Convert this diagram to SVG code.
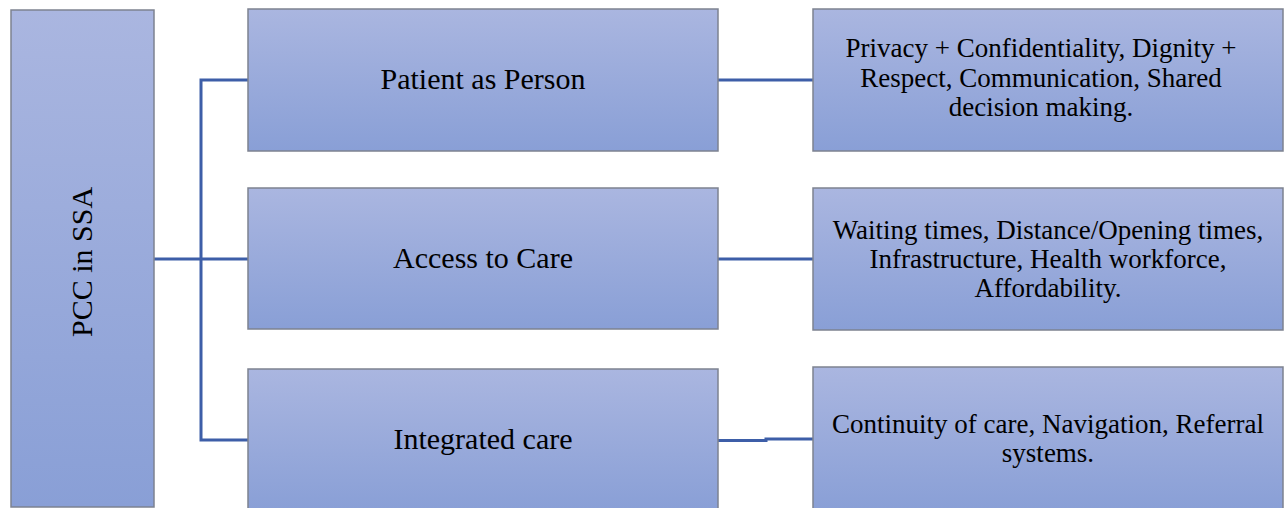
<svg xmlns="http://www.w3.org/2000/svg" width="1285" height="508" viewBox="0 0 1285 508">
  <style>
    .box { fill: url(#boxFill); stroke: #7d8290; stroke-width: 1.5; }
    .link { fill: none; stroke: #3d5ea8; stroke-width: 3; }
    .t1 { font-family: "Liberation Serif", "Times New Roman", serif; font-size: 30px; fill: #000; text-anchor: middle; }
    .t2 { font-family: "Liberation Serif", "Times New Roman", serif; font-size: 27px; fill: #000; text-anchor: middle; }
  </style>
  <defs>
    <linearGradient id="boxFill" x1="0" y1="0" x2="0" y2="1">
      <stop offset="0" stop-color="#aab6e0"/>
      <stop offset="1" stop-color="#899fd6"/>
    </linearGradient>
  </defs>
  <rect width="1285" height="508" fill="#ffffff"/>

  <!-- connectors -->
  <g id="connectors">
    <path class="link" d="M154,259 H248"/>
    <path class="link" d="M248,80 H201 V440 H248"/>
    <path class="link" d="M718,80 H813"/>
    <path class="link" d="M718,259 H813"/>
    <path class="link" d="M718,440.5 H766 V439 H813"/>
  </g>

  <!-- root -->
  <g id="root">
    <rect class="box" x="11" y="10" width="143" height="497"/>
    <text class="t1" transform="translate(92,262) rotate(-90)">PCC in SSA</text>
  </g>

  <!-- categories -->
  <g id="patient-as-person">
    <rect class="box" x="248" y="9" width="470" height="142"/>
    <text class="t1" x="483" y="89">Patient as Person</text>
  </g>
  <g id="access-to-care">
    <rect class="box" x="248" y="188" width="470" height="141"/>
    <text class="t1" x="483" y="268">Access to Care</text>
  </g>
  <g id="integrated-care">
    <rect class="box" x="248" y="369" width="470" height="142"/>
    <text class="t1" x="483" y="449">Integrated care</text>
  </g>

  <!-- details -->
  <g id="patient-details">
    <rect class="box" x="813" y="9" width="470" height="142"/>
    <text class="t2" x="1041" y="57">Privacy + Confidentiality, Dignity +</text>
    <text class="t2" x="1041" y="86.5">Respect, Communication, Shared</text>
    <text class="t2" x="1041" y="116">decision making.</text>
  </g>
  <g id="access-details">
    <rect class="box" x="813" y="188" width="470" height="142"/>
    <text class="t2" x="1048" y="239">Waiting times, Distance/Opening times,</text>
    <text class="t2" x="1048" y="268">Infrastructure, Health workforce,</text>
    <text class="t2" x="1048" y="297">Affordability.</text>
  </g>
  <g id="integrated-details">
    <rect class="box" x="813" y="367" width="470" height="144"/>
    <text class="t2" x="1048" y="433">Continuity of care, Navigation, Referral</text>
    <text class="t2" x="1048" y="462">systems.</text>
  </g>
</svg>
